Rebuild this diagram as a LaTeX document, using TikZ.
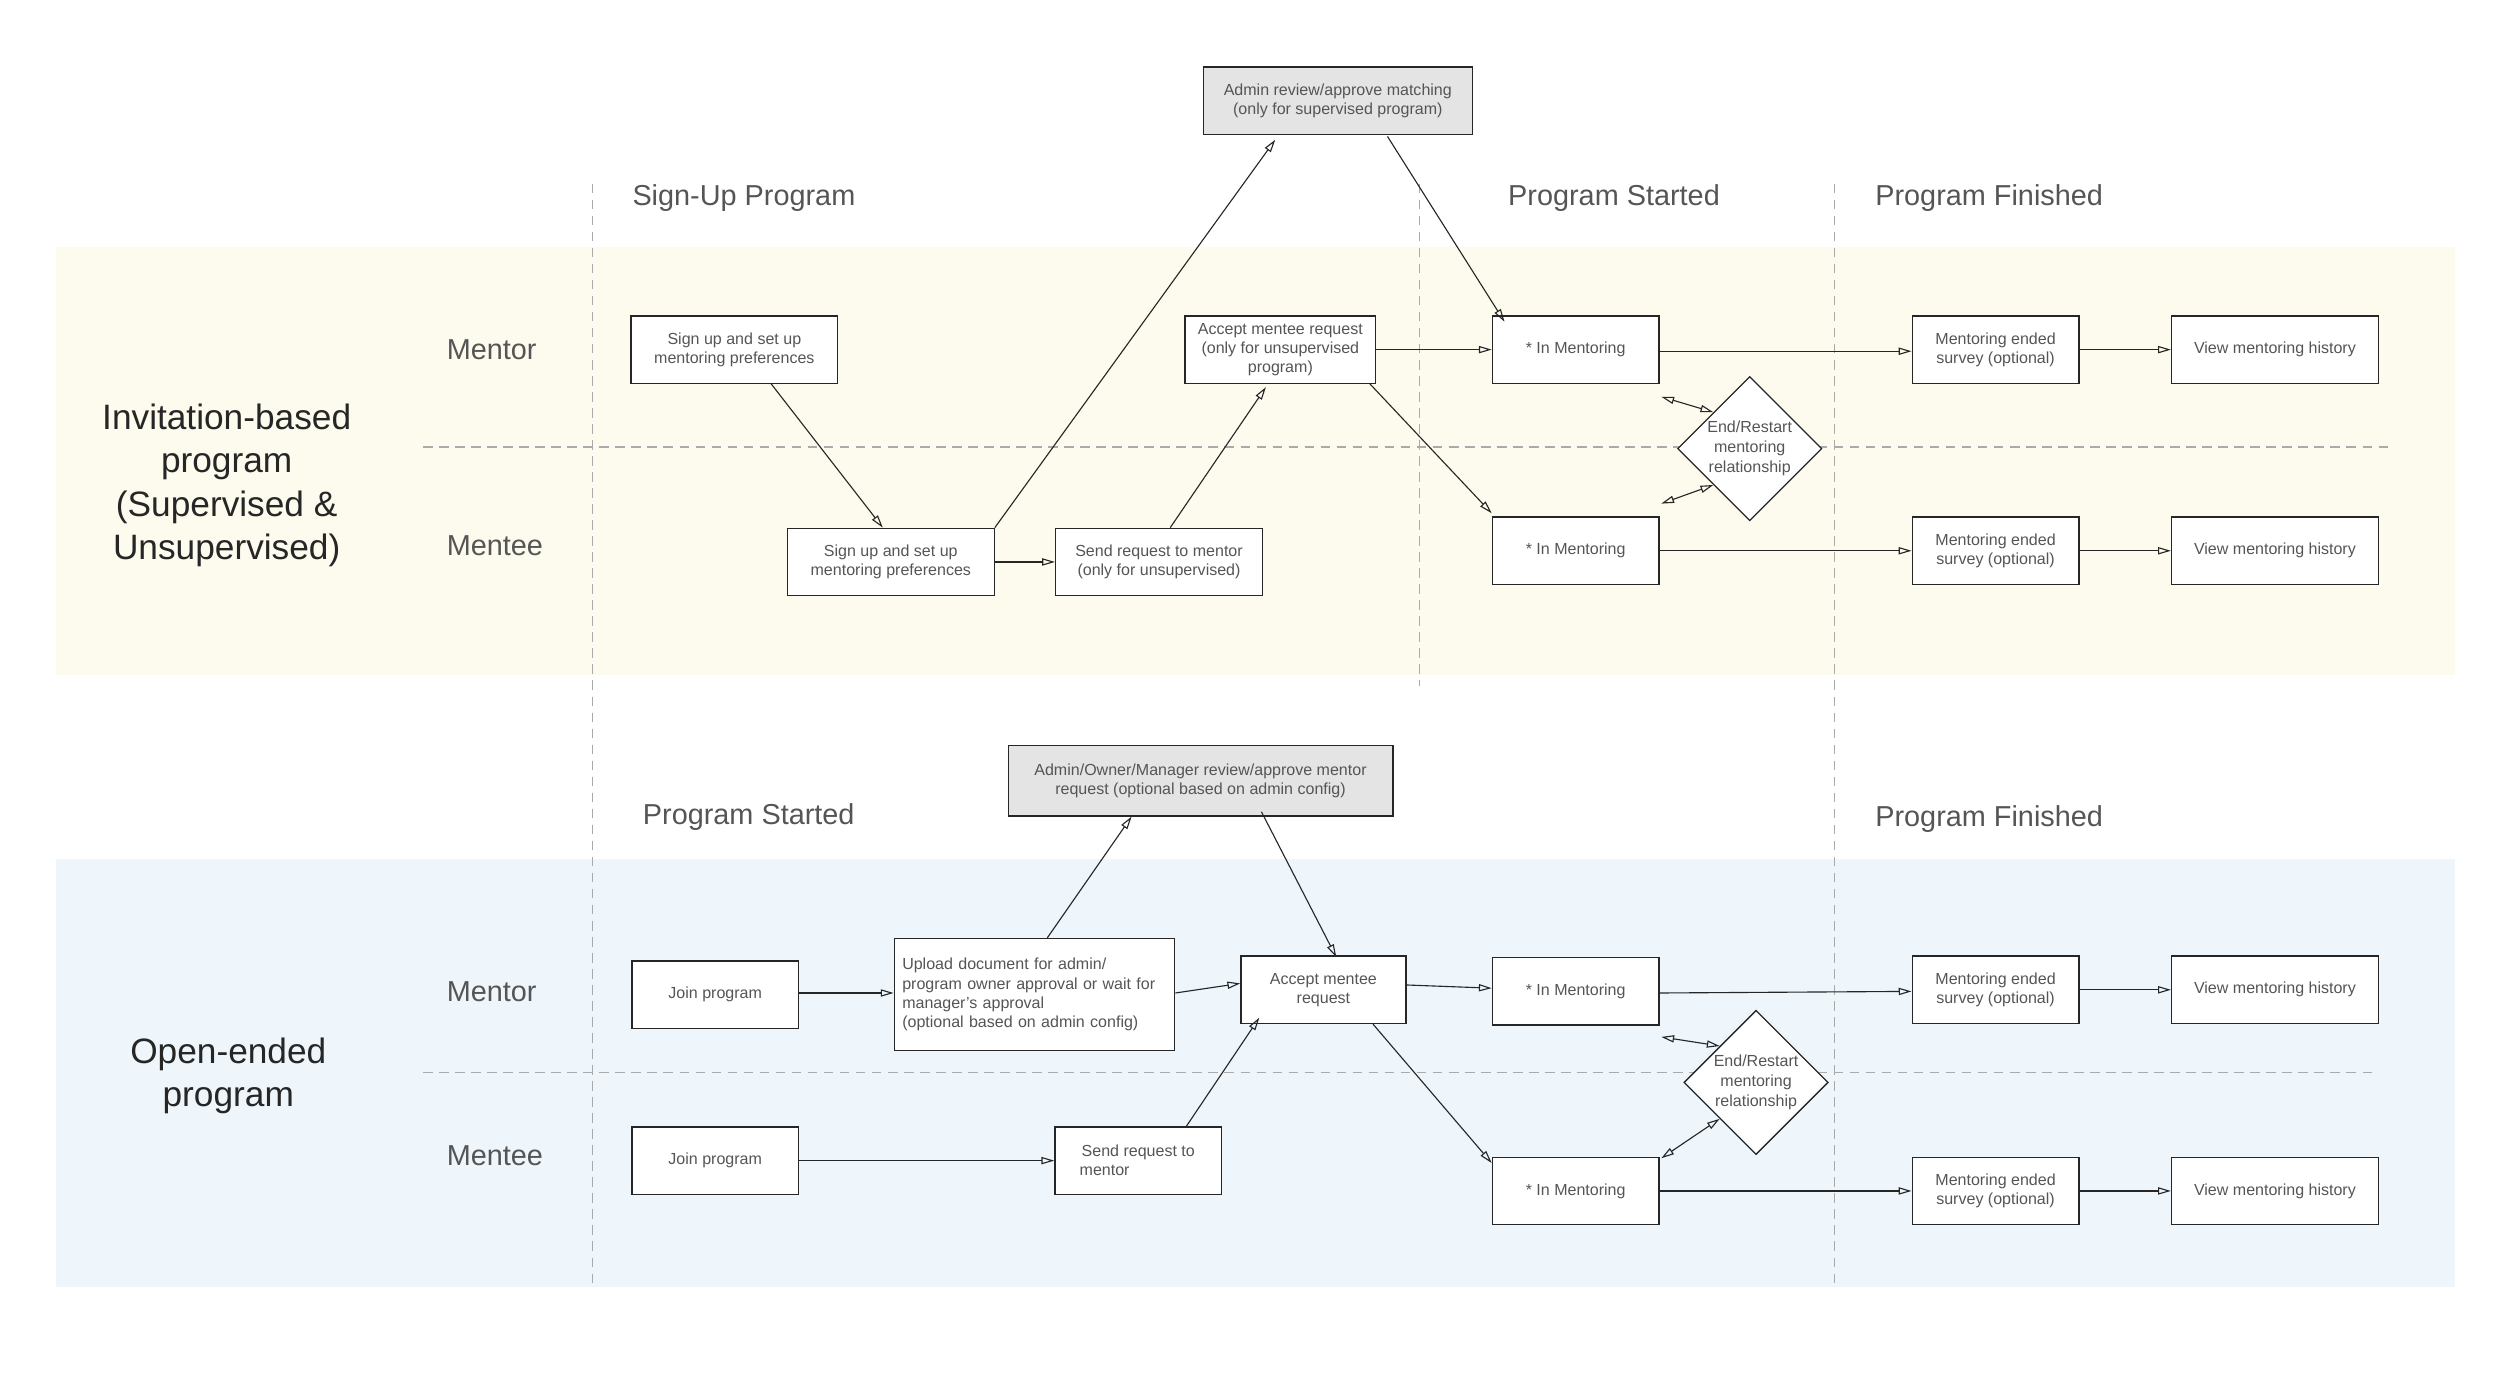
\documentclass[tikz,border=0pt]{standalone}
\usepackage{fontspec}
\setmainfont{Liberation Sans}
\usetikzlibrary{shapes.geometric,arrows.meta}
\definecolor{txt}{HTML}{555555}
\definecolor{yel}{HTML}{FDFBEE}
\definecolor{blu}{HTML}{EEF6FB}
\definecolor{gbox}{HTML}{E4E4E4}
\definecolor{dash}{HTML}{AAAAAA}
\begin{document}
\begin{tikzpicture}[x=0.996pt,y=-0.996pt,
  box/.style={draw=black!85,line width=0.8pt,fill=white,minimum width=104pt,minimum height=42pt,inner sep=2pt,align=center,font=\fontsize{10}{12}\selectfont,text=txt},
  gbx/.style={box,fill=gbox},
  dia/.style={draw=black!85,line width=0.8pt,fill=white,diamond,minimum width=90pt,minimum height=90pt,inner sep=0pt},
  dl/.style={align=center,font=\fontsize{10}{12.5}\selectfont,text=txt},
  hdr/.style={font=\fontsize{18}{20}\selectfont,text=txt},
  lane/.style={font=\fontsize{18}{20}\selectfont,text=txt},
  big/.style={font=\fontsize{22}{27}\selectfont,align=center,text=black!85},
  ar/.style={line width=0.7pt,draw=black!85,-{Triangle[open,length=8pt,width=4.5pt]}},
  dar/.style={line width=0.7pt,draw=black!85,{Triangle[open,length=8pt,width=4.5pt]}-{Triangle[open,length=8pt,width=4.5pt]}},
  dsh/.style={draw=dash,line width=0.8pt,dash pattern=on 6pt off 4pt}]
\useasboundingbox (0,0) rectangle (1566,872);
\fill[yel] (35,155) rectangle (1538,423);
\fill[blu] (35,538) rectangle (1538,806);
\draw[dsh] (371,115) -- (371,806);
\draw[dsh] (889,115) -- (889,430);
\draw[dsh] (1149,115) -- (1149,806);
\draw[dsh] (265,280) -- (1497,280);
\draw[dsh] (265,672) -- (1487,672);
% headers
\node[hdr] (h1) at (466,124) {Sign-Up Program};
\node[hdr] (h2) at (1011,124) {Program Started};
\node[hdr] (h3) at (1246,124) {Program Finished};
\node[hdr] (h4) at (469,512) {Program Started};
\node[hdr] (h5) at (1246,513) {Program Finished};
\node[lane] (l1) at (308,219) {Mentor};
\node[lane] (l2) at (310,342) {Mentee};
\node[lane] (l3) at (308,621) {Mentor};
\node[lane] (l4) at (310,724) {Mentee};
\node[big] (b1) at (142,304) {Invitation-based\\program\\(Supervised \&\\Unsupervised)};
\node[big] (b2) at (143,674) {Open-ended\\program};
% top boxes
\node[gbx,minimum width=168pt] (adm1) at (838,63) {Admin review/approve matching\\(only for supervised program)};
\node[box,minimum width=129pt] (sm1) at (460,219) {Sign up and set up\\mentoring preferences};
\node[box,minimum width=129pt] (se1) at (558,352) {Sign up and set up\\mentoring preferences};
\node[box,minimum width=129pt] (sr1) at (726,352) {Send request to mentor\\(only for unsupervised)};
\node[box,minimum width=119pt] (acc1) at (802,219) {Accept mentee request\\(only for unsupervised\\program)};
\node[box] (im1) at (987,219) {* In Mentoring};
\node[box] (im2) at (987,345) {* In Mentoring};
\node[dia] (d1) at (1096,281) {};
\node[dl] (d1t) at (1096,281) {End/Restart\\mentoring\\relationship};
\node[box] (me1) at (1250,219) {Mentoring ended\\survey (optional)};
\node[box,minimum width=129pt] (vh1) at (1425,219) {View mentoring history};
\node[box] (me2) at (1250,345) {Mentoring ended\\survey (optional)};
\node[box,minimum width=129pt] (vh2) at (1425,345) {View mentoring history};
\draw[ar] ([xshift=23pt]sm1.south) -- ([xshift=-5pt]se1.north);
\draw[ar] (se1.east) -- (sr1.west);
\draw[ar] (se1.north east) -- ([xshift=-39pt,yshift=-3pt]adm1.south);
\draw[ar] ([xshift=7pt]sr1.north) -- ([xshift=-9pt,yshift=-2pt]acc1.south);
\draw[ar] (acc1.east) -- (im1.west);
\draw[ar] ([xshift=-4pt]acc1.south east) -- ([yshift=2pt]im2.north west);
\draw[ar] ([xshift=31pt,yshift=-1pt]adm1.south) -- ([xshift=8pt,yshift=-4pt]im1.north west);
\draw[ar] ([yshift=-1pt]im1.east) -- ([yshift=-1pt]me1.west);
\draw[ar] (me1.east) -- (vh1.west);
\draw[ar] (im2.east) -- (me2.west);
\draw[ar] (me2.east) -- (vh2.west);
\draw[dar] ([xshift=1pt,yshift=-8pt]im1.south east) -- (d1.135);
\draw[dar] ([xshift=1pt,yshift=8pt]im2.north east) -- (d1.225);
% bottom boxes
\node[gbx,minimum width=240pt,minimum height=44pt] (adm2) at (752,489) {Admin/Owner/Manager review/approve mentor\\request (optional based on admin config)};
\node[box] (jp1) at (448,623) {Join program};
\node[box,minimum width=175pt,minimum height=70pt,align=left,text width=165pt] (up) at (648,623) {Upload document for admin/\\program owner approval or wait for\\manager’s approval\\(optional based on admin config)};
\node[box,minimum width=103pt] (acc2) at (829,620) {Accept mentee\\request};
\node[box] (im3) at (987,621) {* In Mentoring};
\node[box] (jp2) at (448,727) {Join program};
\node[box] (sr2) at (713,727) {Send request to\\mentor\hspace*{42pt}};
\node[box] (im4) at (987,746) {* In Mentoring};
\node[dia] (d2) at (1100,678) {};
\node[dl] (d2t) at (1100,678) {End/Restart\\mentoring\\relationship};
\node[box] (me3) at (1250,620) {Mentoring ended\\survey (optional)};
\node[box,minimum width=129pt] (vh3) at (1425,620) {View mentoring history};
\node[box] (me4) at (1250,746) {Mentoring ended\\survey (optional)};
\node[box,minimum width=129pt] (vh4) at (1425,746) {View mentoring history};
\draw[ar] ([yshift=1pt]jp1.east) -- ([yshift=1pt]up.west);
\draw[ar] ([yshift=1pt]up.east) -- ([yshift=4pt]acc2.west);
\draw[ar] ([yshift=3pt]acc2.east) -- ([yshift=2pt]im3.west);
\draw[ar] ([xshift=8pt]up.north) -- ([xshift=-43pt]adm2.south);
\draw[ar] ([xshift=38pt,yshift=3pt]adm2.south) -- ([xshift=8pt,yshift=-1pt]acc2.north);
\draw[ar] (jp2.east) -- (sr2.west);
\draw[ar] ([xshift=30pt]sr2.north) -- ([xshift=-40pt,yshift=4pt]acc2.south);
\draw[ar] ([xshift=-21pt]acc2.south east) -- ([yshift=-4pt]im4.north west);
\draw[ar] ([yshift=-1pt]im3.east) -- ([yshift=-1pt]me3.west);
\draw[ar] (me3.east) -- (vh3.west);
\draw[ar] (im4.east) -- (me4.west);
\draw[ar] (me4.east) -- (vh4.west);
\draw[dar] ([xshift=1pt,yshift=-7pt]im3.south east) -- (d2.135);
\draw[dar] ([xshift=1pt,yshift=-1pt]im4.north east) -- (d2.225);
\end{tikzpicture}
\end{document}
